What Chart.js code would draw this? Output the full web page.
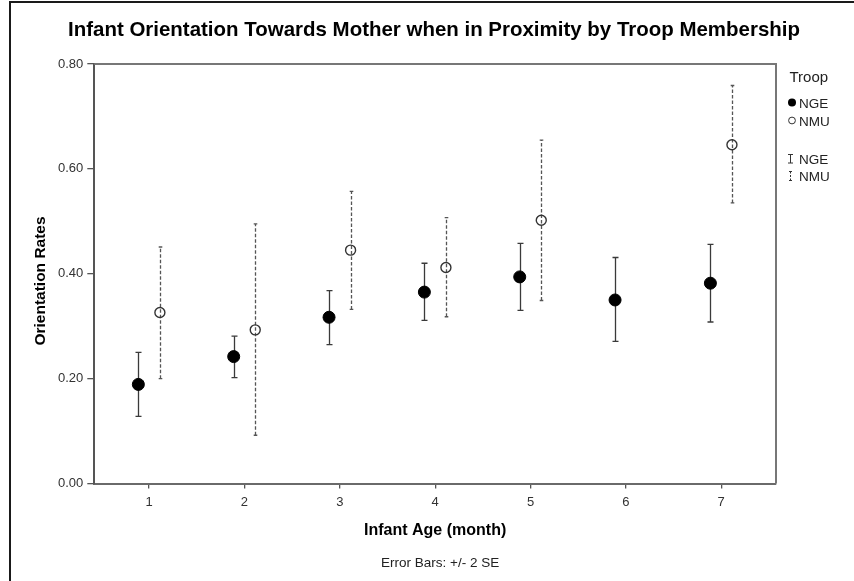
<!DOCTYPE html>
<html>
<head>
<meta charset="utf-8">
<script src="https://cdn.jsdelivr.net/npm/chart.js@4"></script>
<style>
  html, body { margin: 0; padding: 0; background: #fff; }
  canvas { display: block; }
</style>
</head>
<body>
<canvas id="c" width="854" height="581"></canvas>
<script>
// ---- data ----
const months = [1, 2, 3, 4, 5, 6, 7];
const xTickValues = [1, 2, 3, 4, 5, 6, 7];
const yTickValues = [0, 0.2, 0.4, 0.6, 0.8];

const ngeMean = [0.189, 0.242, 0.317, 0.365, 0.394, 0.350, 0.382];
const ngeLow  = [0.128, 0.202, 0.265, 0.311, 0.330, 0.271, 0.308];
const ngeHigh = [0.250, 0.281, 0.368, 0.420, 0.458, 0.431, 0.456];

const nmuMean = [0.326, 0.293, 0.445, 0.412, 0.502, null, 0.646];
const nmuLow  = [0.200, 0.092, 0.332, 0.318, 0.349, null, 0.535];
const nmuHigh = [0.451, 0.495, 0.557, 0.507, 0.655, null, 0.759];

const seriesNames = ['NGE', 'NMU'];
const titleText = 'Infant Orientation Towards Mother when in Proximity by Troop Membership';
const xTitle = 'Infant Age (month)';
const yTitle = 'Orientation Rates';
const noteText = 'Error Bars: +/- 2 SE';
const legendTitle = 'Troop';

// ---- layout constants ----
const DODGE = 0.113;
const FONT = "'Liberation Sans', Arial, sans-serif";

function pts(mean, lo, hi, shift) {
  const out = [];
  months.forEach((m, i) => {
    if (mean[i] !== null) out.push({ x: m + shift, y: mean[i], lo: lo[i], hi: hi[i] });
  });
  return out;
}

const errorBarPlugin = {
  id: 'errorBars',
  beforeDatasetsDraw(chart) {
    const ctx = chart.ctx;
    const xs = chart.scales.x, ys = chart.scales.y;
    chart.data.datasets.forEach((ds, di) => {
      ctx.save();
      if (di === 0) {
        ctx.strokeStyle = '#3a3a3a';
        ctx.lineWidth = 1.3;
        ctx.setLineDash([]);
      } else {
        ctx.strokeStyle = '#555';
        ctx.lineWidth = 1.3;
        ctx.setLineDash([3.5, 2]);
      }
      const cap = di === 0 ? 3 : 1.8;
      ds.data.forEach(p => {
        const x = Math.round(xs.getPixelForValue(p.x)) + 0.5;
        const y1 = ys.getPixelForValue(p.lo);
        const y2 = ys.getPixelForValue(p.hi);
        ctx.beginPath();
        ctx.moveTo(x, y1);
        ctx.lineTo(x, y2);
        ctx.stroke();
        ctx.save();
        ctx.setLineDash([]);
        ctx.beginPath();
        ctx.moveTo(x - cap, y1); ctx.lineTo(x + cap, y1);
        ctx.moveTo(x - cap, y2); ctx.lineTo(x + cap, y2);
        ctx.stroke();
        ctx.restore();
      });
      ctx.restore();
    });
  }
};

const decorPlugin = {
  id: 'decor',
  beforeDraw(chart) {
    const ctx = chart.ctx;
    ctx.save();
    ctx.fillStyle = '#fff';
    ctx.fillRect(0, 0, chart.width, chart.height);
    ctx.restore();
  },
  afterDraw(chart) {
    const ctx = chart.ctx;
    const a = chart.chartArea;
    ctx.save();
    // outer frame (top and left)
    ctx.strokeStyle = '#1a1a1a';
    ctx.lineWidth = 2;
    ctx.beginPath();
    ctx.moveTo(9, 2); ctx.lineTo(chart.width, 2);
    ctx.moveTo(10, 2); ctx.lineTo(10, chart.height);
    ctx.stroke();
    // plot box top and right
    ctx.strokeStyle = '#777';
    ctx.lineWidth = 2;
    ctx.beginPath();
    ctx.moveTo(a.left, a.top); ctx.lineTo(a.right, a.top); ctx.lineTo(a.right, a.bottom);
    ctx.stroke();

    // chart title
    ctx.fillStyle = '#000';
    ctx.font = 'bold 20.5px ' + FONT;
    ctx.textAlign = 'center';
    ctx.textBaseline = 'alphabetic';
    ctx.fillText(titleText, 434, 36, 732);

    // y axis title
    ctx.save();
    ctx.translate(41, 281);
    ctx.rotate(-Math.PI / 2);
    ctx.font = 'bold 15.5px ' + FONT;
    ctx.textBaseline = 'middle';
    ctx.fillText(yTitle, 0, 0);
    ctx.restore();

    // note under x title
    ctx.fillStyle = '#222';
    ctx.font = '13.5px ' + FONT;
    ctx.textAlign = 'center';
    ctx.textBaseline = 'alphabetic';
    ctx.fillText(noteText, (a.left + a.right) / 2 + 5, 567);

    // legend
    ctx.textAlign = 'left';
    ctx.fillStyle = '#222';
    ctx.font = '15px ' + FONT;
    ctx.fillText(legendTitle, 789.5, 81.5);
    ctx.font = '13.5px ' + FONT;
    ctx.fillText(seriesNames[0], 799, 107.5);
    ctx.fillText(seriesNames[1], 799, 125.5);
    ctx.fillText(seriesNames[0], 799, 163.5);
    ctx.fillText(seriesNames[1], 799, 181);
    // marker symbols
    ctx.fillStyle = '#000';
    ctx.beginPath(); ctx.arc(792, 102.5, 4, 0, Math.PI * 2); ctx.fill();
    ctx.strokeStyle = '#333'; ctx.lineWidth = 1;
    ctx.beginPath(); ctx.arc(792, 120.5, 3.4, 0, Math.PI * 2); ctx.stroke();
    // error bar symbols
    ctx.strokeStyle = '#333'; ctx.lineWidth = 1;
    ctx.beginPath();
    ctx.moveTo(790.5, 154.5); ctx.lineTo(790.5, 163);
    ctx.moveTo(788, 154.5); ctx.lineTo(793, 154.5);
    ctx.moveTo(788, 163); ctx.lineTo(793, 163);
    ctx.stroke();
    ctx.setLineDash([2, 1.5]);
    ctx.beginPath(); ctx.moveTo(790.5, 171.5); ctx.lineTo(790.5, 180.5); ctx.stroke();
    ctx.setLineDash([]);
    ctx.beginPath();
    ctx.moveTo(789, 171.5); ctx.lineTo(792, 171.5);
    ctx.moveTo(789, 180.5); ctx.lineTo(792, 180.5);
    ctx.stroke();
    ctx.restore();
  }
};

new Chart(document.getElementById('c'), {
  type: 'scatter',
  data: {
    datasets: [
      {
        label: seriesNames[0],
        data: pts(ngeMean, ngeLow, ngeHigh, -DODGE),
        pointRadius: 6,
        pointBackgroundColor: '#000',
        pointBorderColor: '#000',
        pointBorderWidth: 1,
        showLine: false
      },
      {
        label: seriesNames[1],
        data: pts(nmuMean, nmuLow, nmuHigh, DODGE),
        pointRadius: 5,
        pointBackgroundColor: 'rgba(0,0,0,0)',
        pointBorderColor: '#333',
        pointBorderWidth: 1.4,
        showLine: false
      }
    ]
  },
  options: {
    responsive: false,
    animation: false,
    devicePixelRatio: 1,
    layout: { padding: { left: 0, right: 78, top: 64, bottom: 0 } },
    plugins: {
      legend: { display: false },
      tooltip: { enabled: false },
      title: { display: false }
    },
    scales: {
      x: {
        type: 'linear',
        min: 0.425,
        max: 7.575,
        afterBuildTicks(scale) { scale.ticks = xTickValues.map(v => ({ value: v })); },
        afterFit(scale) { scale.height = 97.5; },
        grid: { drawOnChartArea: false, drawTicks: true, tickLength: 5, color: '#555', lineWidth: 1.3 },
        border: { display: true, color: '#6a6a6a', width: 2 },
        ticks: { color: '#333', font: { family: FONT, size: 13 }, padding: 6, maxRotation: 0,
                 callback: v => String(v) },
        title: { display: true, text: xTitle, color: '#000',
                 font: { family: FONT, size: 16, weight: 'bold' }, padding: { top: 0, bottom: 41 } }
      },
      y: {
        type: 'linear',
        min: 0,
        max: 0.8,
        afterBuildTicks(scale) { scale.ticks = yTickValues.map(v => ({ value: v })); },
        afterFit(scale) { scale.width = 94.3; },
        grid: { drawOnChartArea: false, drawTicks: true, tickLength: 7, color: '#555', lineWidth: 1.3 },
        border: { display: true, color: '#555', width: 2 },
        ticks: { color: '#333', font: { family: FONT, size: 13 }, padding: 4,
                 callback: v => Number(v).toFixed(2) },
        title: { display: false }
      }
    }
  },
  plugins: [errorBarPlugin, decorPlugin]
});
</script>
</body>
</html>
